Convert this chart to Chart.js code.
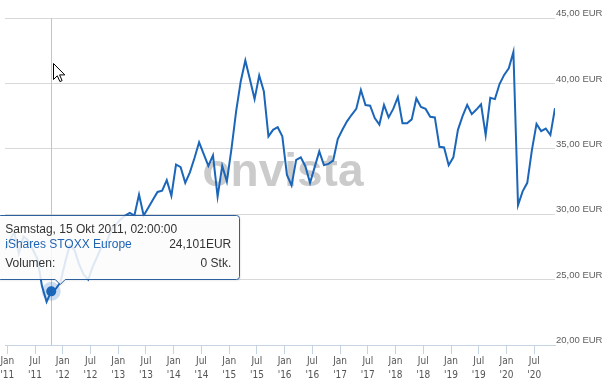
<!DOCTYPE html>
<html>
<head>
<meta charset="utf-8">
<title>iShares STOXX Europe</title>
<script src="https://cdn.jsdelivr.net/npm/chart.js@4/dist/chart.umd.min.js"></script>
<style>
    body { margin: 0; background: #fff; }
    #wrap { position: relative; width: 615px; height: 384px; }
    #cursor { position: absolute; left: 53px; top: 63px; }
</style>
</head>
<body>
<div id="wrap">
    <canvas id="priceChart" width="615" height="384"></canvas>
    <svg id="cursor" width="13" height="20" viewBox="0 0 13 20">
        <path d="M0.5 0.5 L0.5 16.5 L4.3 12.8 L6.9 18.6 L9.1 17.6 L6.6 11.9 L11.8 11.9 Z" fill="#fff" stroke="#000" stroke-width="1"/>
    </svg>
</div>
<script>
// Monthly closing prices (EUR), one value per month, mid-month samples
const prices2010 = [27.3]; // Dec
const prices2011 = [28.0, 28.6, 27.0, 28.3, 28.0, 27.3, 26.6, 24.5, 23.3, 24.101, 24.3, 24.8];
const prices2012 = [26.3, 27.6, 27.3, 26.2, 25.4, 25.0, 26.0, 26.8, 27.6, 27.9, 28.8, 29.2];
const prices2013 = [29.6, 29.9, 30.1, 29.9, 31.5, 29.9, 30.5, 31.1, 31.7, 31.8, 32.6, 31.4];
const prices2014 = [33.8, 33.6, 32.4, 33.2, 34.3, 35.5, 34.6, 33.7, 34.5, 31.35, 33.7, 32.5];
const prices2015 = [35.0, 37.85, 40.15, 41.75, 40.3, 38.8, 40.6, 39.4, 35.95, 36.45, 36.65, 35.95];
const prices2016 = [33.0, 32.2, 34.15, 34.35, 33.65, 32.4, 33.6, 34.8, 33.75, 33.85, 34.1, 35.75];
const prices2017 = [36.45, 37.1, 37.6, 38.05, 39.5, 38.35, 38.3, 37.35, 36.85, 38.35, 37.4, 38.05];
const prices2018 = [38.95, 36.95, 36.95, 37.25, 38.85, 38.2, 38.05, 37.45, 37.4, 35.15, 35.1, 33.75];
const prices2019 = [34.35, 36.45, 37.5, 38.35, 37.65, 38.0, 38.4, 36.05, 38.9, 38.8, 39.95, 40.65];
const prices2020 = [41.15, 42.4, 30.7, 31.75, 32.4, 34.9, 36.9, 36.35, 36.55, 36.05, 38.1]; // Jan - Nov

// x-axis tick labels (half-yearly)
const tickLabels = [
    ['Jan', "'11"], ['Jul', "'11"], ['Jan', "'12"], ['Jul', "'12"], ['Jan', "'13"],
    ['Jul', "'13"], ['Jan', "'14"], ['Jul', "'14"], ['Jan', "'15"], ['Jul', "'15"],
    ['Jan', "'16"], ['Jul', "'16"], ['Jan', "'17"], ['Jul', "'17"], ['Jan', "'18"],
    ['Jul', "'18"], ['Jan', "'19"], ['Jul', "'19"], ['Jan', "'20"], ['Jul', "'20"]
];

// hovered point shown in the tooltip
const hoverIndex = 10; // Oct 2011
const hoverTitle = 'Samstag, 15 Okt 2011, 02:00:00';
const seriesName = 'iShares STOXX Europe';
const volume = '0 Stk.';

const prices = [].concat(prices2010, prices2011, prices2012, prices2013, prices2014,
    prices2015, prices2016, prices2017, prices2018, prices2019, prices2020);
// x = month number counted from Jan 2011 (Dec 2010 = -1)
const points = prices.map((v, i) => ({ x: i - 1, y: v }));
// ticks sit at the start of each month
const tickPos = tickLabels.map((_, i) => i * 6 - 0.5);

const lineColor = '#1b66b9';
const FONT = '"Liberation Sans", Arial, sans-serif';
Chart.defaults.font.family = FONT;

// watermark, crosshair, hover dot and tooltip
const hoverPlugin = {
    id: 'hoverPlugin',
    beforeDatasetsDraw(chart) {
        const ctx = chart.ctx;
        const area = chart.chartArea;
        const pt = chart.getDatasetMeta(0).data[hoverIndex];
        ctx.save();
        ctx.font = 'bold 46px ' + FONT;
        ctx.fillStyle = '#cbcbcb';
        ctx.textAlign = 'center';
        ctx.textBaseline = 'alphabetic';
        ctx.fillText('onvista', (area.left + area.right) / 2 + 3, (area.top + area.bottom) / 2 + 4);

        const cx = Math.round(pt.x) + 0.5;
        ctx.strokeStyle = '#c4c4c4';
        ctx.lineWidth = 1;
        ctx.beginPath();
        ctx.moveTo(cx, area.top);
        ctx.lineTo(cx, area.bottom);
        ctx.stroke();
        ctx.restore();
    },
    afterDatasetsDraw(chart) {
        const ctx = chart.ctx;
        const pt = chart.getDatasetMeta(0).data[hoverIndex];
        ctx.save();
        ctx.fillStyle = 'rgba(27, 102, 185, 0.22)';
        ctx.beginPath();
        ctx.arc(pt.x, pt.y, 9.5, 0, Math.PI * 2);
        ctx.fill();
        ctx.fillStyle = lineColor;
        ctx.beginPath();
        ctx.arc(pt.x, pt.y, 5, 0, Math.PI * 2);
        ctx.fill();
        ctx.restore();
    },
    afterDraw(chart) {
        const ctx = chart.ctx;
        const pt = chart.getDatasetMeta(0).data[hoverIndex];
        const left = pt.x - 54, top = pt.y - 76, w = 242, h = 64, r = 3;
        const right = Math.round(left + w) + 0.5, bottom = Math.round(top + h) + 0.5;
        const t = Math.round(top) + 0.5;
        const caretX = pt.x + 9;

        ctx.save();
        ctx.beginPath();
        ctx.moveTo(left + r, t);
        ctx.lineTo(right - r, t);
        ctx.arcTo(right, t, right, t + r, r);
        ctx.lineTo(right, bottom - r);
        ctx.arcTo(right, bottom, right - r, bottom, r);
        ctx.lineTo(caretX + 5, bottom);
        ctx.lineTo(caretX, bottom + 5);
        ctx.lineTo(caretX - 5, bottom);
        ctx.lineTo(left + r, bottom);
        ctx.arcTo(left, bottom, left, bottom - r, r);
        ctx.lineTo(left, t + r);
        ctx.arcTo(left, t, left + r, t, r);
        ctx.closePath();
        ctx.shadowColor = 'rgba(0, 0, 0, 0.12)';
        ctx.shadowOffsetX = 1;
        ctx.shadowOffsetY = 1;
        ctx.shadowBlur = 2;
        ctx.fillStyle = 'rgba(255, 255, 255, 0.86)';
        ctx.fill();
        ctx.shadowColor = 'transparent';
        ctx.strokeStyle = '#2b5f9e';
        ctx.lineWidth = 1;
        ctx.stroke();

        const tx = pt.x - 46, rx = pt.x + 180;
        ctx.font = '12px ' + FONT;
        ctx.textBaseline = 'alphabetic';
        ctx.textAlign = 'left';
        ctx.fillStyle = '#333';
        ctx.fillText(hoverTitle, tx, top + 18);
        ctx.fillStyle = '#1f64b4';
        ctx.fillText(seriesName, tx, top + 33);
        ctx.fillStyle = '#333';
        ctx.fillText('Volumen:', tx, top + 51.5);
        ctx.textAlign = 'right';
        ctx.fillText(prices[hoverIndex].toFixed(3).replace('.', ',') + 'EUR', rx, top + 33);
        ctx.fillText(volume, rx, top + 51.5);
        ctx.restore();
    }
};

const ctx = document.getElementById('priceChart').getContext('2d');
const priceChart = new Chart(ctx, {
    type: 'line',
    data: {
        datasets: [{
            label: seriesName,
            data: points,
            borderColor: lineColor,
            borderWidth: 2,
            pointRadius: 0,
            tension: 0,
            fill: false
        }]
    },
    options: {
        responsive: false,
        animation: false,
        devicePixelRatio: 1,
        events: [],
        layout: { padding: { top: 18, left: 5, right: 0, bottom: 0 } },
        plugins: {
            legend: { display: false },
            tooltip: { enabled: false }
        },
        scales: {
            x: {
                type: 'linear',
                min: -1,
                max: 118,
                afterBuildTicks: s => { s.ticks = tickPos.map(v => ({ value: v })); },
                afterFit: s => { s.height = 39; },
                grid: { drawOnChartArea: false, drawTicks: true, tickLength: 9, color: '#c6d3e0' },
                border: { display: true, color: '#c6d3e0' },
                ticks: {
                    autoSkip: false,
                    maxRotation: 0,
                    padding: 0,
                    color: '#555',
                    font: { family: '"Liberation Sans Narrow", "DejaVu Sans Condensed", ' + FONT, size: 10, lineHeight: 1.4 },
                    callback: (v, i) => tickLabels[i]
                }
            },
            y: {
                position: 'right',
                min: 20,
                max: 45,
                afterFit: s => { s.width = 60; },
                grid: { color: '#d9d9d9', drawTicks: false },
                border: { display: false },
                ticks: {
                    stepSize: 5,
                    padding: 1,
                    labelOffset: -4.5,
                    color: '#5e5e5e',
                    font: { size: 9.5 },
                    callback: v => v.toFixed(2).replace('.', ',') + ' EUR'
                }
            }
        }
    },
    plugins: [hoverPlugin]
});
</script>
</body>
</html>
